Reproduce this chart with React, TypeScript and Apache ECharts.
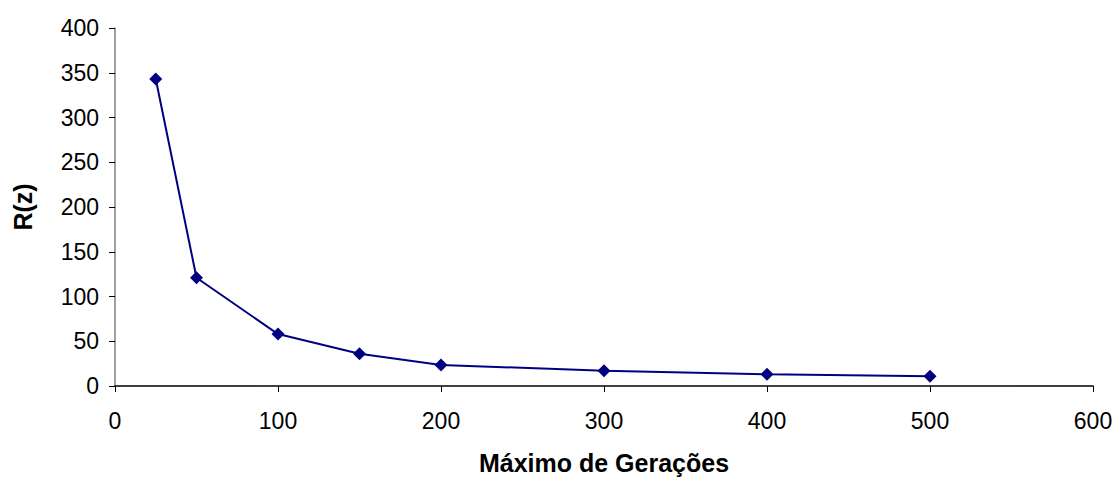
import React, { useEffect, useRef } from "react";
import * as echarts from "echarts";

const xValues = [25, 50, 100, 150, 200, 300, 400, 500];
const rValues = [343, 121, 58, 36, 23.5, 17, 13, 11];
const xAxisName = "Máximo de Gerações";
const yAxisName = "R(z)";

export default function App() {
  const ref = useRef<HTMLDivElement>(null);
  useEffect(() => {
    if (!ref.current) return;
    const chart = echarts.init(ref.current, undefined, { renderer: "svg" });
    const font = "'Liberation Sans', Arial, sans-serif";
    chart.setOption({
      animation: false,
      grid: { left: 115, right: 25, top: 28, bottom: 91, containLabel: false, outerBoundsMode: "none" },
      xAxis: {
        type: "value",
        min: 0,
        max: 600,
        interval: 100,
        name: xAxisName,
        nameLocation: "middle",
        nameGap: 64,
        nameTextStyle: { fontFamily: font, fontSize: 25, fontWeight: "bold", color: "#000" },
        axisLine: { show: true, lineStyle: { color: "#000", width: 1.5 } },
        axisTick: { show: true, length: 6, lineStyle: { color: "#000" } },
        axisLabel: { fontFamily: font, fontSize: 23, color: "#000", margin: 23 },
        splitLine: { show: false },
      },
      yAxis: {
        type: "value",
        min: 0,
        max: 400,
        interval: 50,
        name: yAxisName,
        nameLocation: "middle",
        nameGap: 80,
        nameRotate: 90,
        nameTextStyle: { fontFamily: font, fontSize: 25, fontWeight: "bold", color: "#000" },
        axisLine: { show: true, lineStyle: { color: "#808080", width: 1.5 } },
        axisTick: { show: true, length: 6, lineStyle: { color: "#000" } },
        axisLabel: { fontFamily: font, fontSize: 23, color: "#000", margin: 16 },
        splitLine: { show: false },
      },
      series: [
        {
          type: "line",
          data: xValues.map((x, i) => [x, rValues[i]]),
          symbol: "diamond",
          symbolSize: 13,
          lineStyle: { color: "#000080", width: 2 },
          itemStyle: { color: "#000080" },
        },
      ],
    });
    return () => chart.dispose();
  }, []);
  return (
    <div
      ref={ref}
      style={{ position: "fixed", left: 0, top: 0, width: 1118, height: 477, background: "#fff" }}
    />
  );
}
